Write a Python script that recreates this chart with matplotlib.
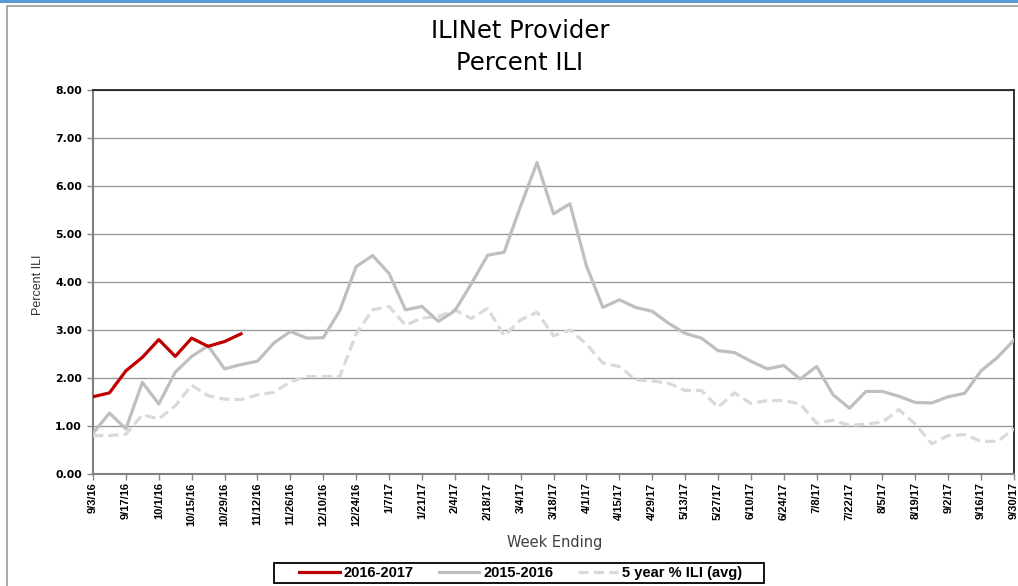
import numpy as np
import matplotlib.pyplot as plt
from matplotlib.patches import Rectangle
from matplotlib.lines import Line2D

# weekly values, week ending 9/3/16 .. 9/30/17
season_1617 = [1.61, 1.69, 2.15, 2.43, 2.80, 2.45, 2.83, 2.66, 2.76, 2.92]

season_1516 = [0.85, 1.27, 0.94, 1.91, 1.46, 2.12, 2.45, 2.67, 2.19, 2.28,
               2.35, 2.73, 2.97, 2.83, 2.84, 3.40, 4.32, 4.55, 4.18, 3.42,
               3.49, 3.18, 3.40, 3.96, 4.56, 4.62, 5.58, 6.49, 5.42, 5.63,
               4.34, 3.47, 3.63, 3.47, 3.39, 3.14, 2.93, 2.83, 2.57, 2.53,
               2.35, 2.19, 2.26, 1.98, 2.24, 1.65, 1.37, 1.72, 1.72, 1.62,
               1.49, 1.48, 1.61, 1.68, 2.15, 2.43, 2.79]

five_year_avg = [0.80, 0.80, 0.83, 1.23, 1.15, 1.42, 1.85, 1.63, 1.56, 1.55,
                 1.65, 1.70, 1.92, 2.03, 2.03, 2.03, 2.92, 3.42, 3.49, 3.10,
                 3.25, 3.28, 3.42, 3.24, 3.45, 2.88, 3.21, 3.37, 2.88, 3.00,
                 2.71, 2.31, 2.24, 1.96, 1.94, 1.89, 1.74, 1.74, 1.39, 1.69,
                 1.47, 1.53, 1.53, 1.46, 1.06, 1.12, 1.01, 1.04, 1.08, 1.34,
                 1.04, 0.63, 0.80, 0.82, 0.68, 0.68, 0.94]

tick_labels = ["9/3/16", "9/17/16", "10/1/16", "10/15/16", "10/29/16",
               "11/12/16", "11/26/16", "12/10/16", "12/24/16", "1/7/17",
               "1/21/17", "2/4/17", "2/18/17", "3/4/17", "3/18/17", "4/1/17",
               "4/15/17", "4/29/17", "5/13/17", "5/27/17", "6/10/17",
               "6/24/17", "7/8/17", "7/22/17", "8/5/17", "8/19/17", "9/2/17",
               "9/16/17", "9/30/17"]

W, H = 1018, 586
fig = plt.figure(figsize=(W / 100, H / 100), dpi=100)

# slide frame + blue band on top
fig.patches.append(Rectangle((7 / W, -0.1), 1.2, 1 - 6 / H + 0.1, transform=fig.transFigure,
                             fill=False, edgecolor="#9a9a9a", linewidth=1.2))
fig.patches.append(Rectangle((0, 1 - 3 / H), 1, 3 / H, transform=fig.transFigure,
                             facecolor="#5b9bd5", edgecolor="none"))

ax = fig.add_axes([93 / W, 1 - 474 / H, (1014 - 93) / W, (474 - 90) / H])

dash = (0, (3.2, 1.6))
x = np.arange(len(season_1516))
ax.plot(np.arange(len(five_year_avg)), five_year_avg, color="#d9d9d9", lw=2.3,
        ls=dash, zorder=3)
ax.plot(x, season_1516, color="#bfbfbf", lw=2.3, zorder=4)
ax.plot(np.arange(len(season_1617)), season_1617, color="#c00000", lw=2.3, zorder=5)

ax.set_xlim(0, len(season_1516) - 1)
ax.set_ylim(0, 8)
ax.set_yticks(np.arange(0, 9))
ax.set_yticklabels(["%.2f" % v for v in range(9)],
                   fontdict={"family": "DejaVu Sans", "weight": "bold", "size": 7.8})
ax.set_xticks(np.arange(0, len(season_1516), 2))
ax.set_xticklabels(tick_labels, rotation=90,
                   fontdict={"family": "Liberation Sans", "weight": "bold", "size": 8})
ax.grid(axis="y", color="#9a9a9a", lw=1.0)
ax.set_axisbelow(True)
ax.tick_params(axis="y", length=4, color="#888888", width=1, pad=4)
ax.tick_params(axis="x", length=4, color="#888888", width=1, pad=2)

for s in ["top", "right"]:
    ax.spines[s].set_color("#222222")
    ax.spines[s].set_linewidth(1.3)
for s in ["left", "bottom"]:
    ax.spines[s].set_color("#808080")
    ax.spines[s].set_linewidth(1.5)

fig.text(520 / W, 1 - 31.5 / H, "ILINet Provider", ha="center", va="center",
         fontsize=17.5, family="DejaVu Sans", color="black")
fig.text(520 / W, 1 - 63 / H, "Percent ILI", ha="center", va="center",
         fontsize=17.5, family="DejaVu Sans", color="black")
fig.text(38 / W, 1 - 285 / H, "Percent ILI", ha="center", va="center",
         rotation=90, fontsize=9, family="Liberation Sans", color="#333333")
fig.text(555 / W, 1 - 542 / H, "Week Ending", ha="center", va="center",
         fontsize=10.5, family="DejaVu Sans", color="#404040")

# legend box drawn at its own place
fig.patches.append(Rectangle((274 / W, 1 - 583 / H), (764 - 274) / W, 20 / H,
                             transform=fig.transFigure, facecolor="white",
                             edgecolor="black", linewidth=1.3))
handles = [Line2D([], [], color="#c00000", lw=2.3),
           Line2D([], [], color="#bfbfbf", lw=2.3),
           Line2D([], [], color="#d9d9d9", lw=2.3, ls=dash)]
leg = fig.legend(handles, ["2016-2017", "2015-2016", "5 year % ILI (avg)"],
                 loc="center", bbox_to_anchor=(521 / W, 1 - 573 / H), ncol=3,
                 frameon=False, handlelength=2.75, columnspacing=1.7,
                 borderpad=0.1, handletextpad=0.3,
                 prop={"family": "Liberation Sans", "weight": "bold", "size": 10.5})

fig.savefig("out.png", dpi=100)
